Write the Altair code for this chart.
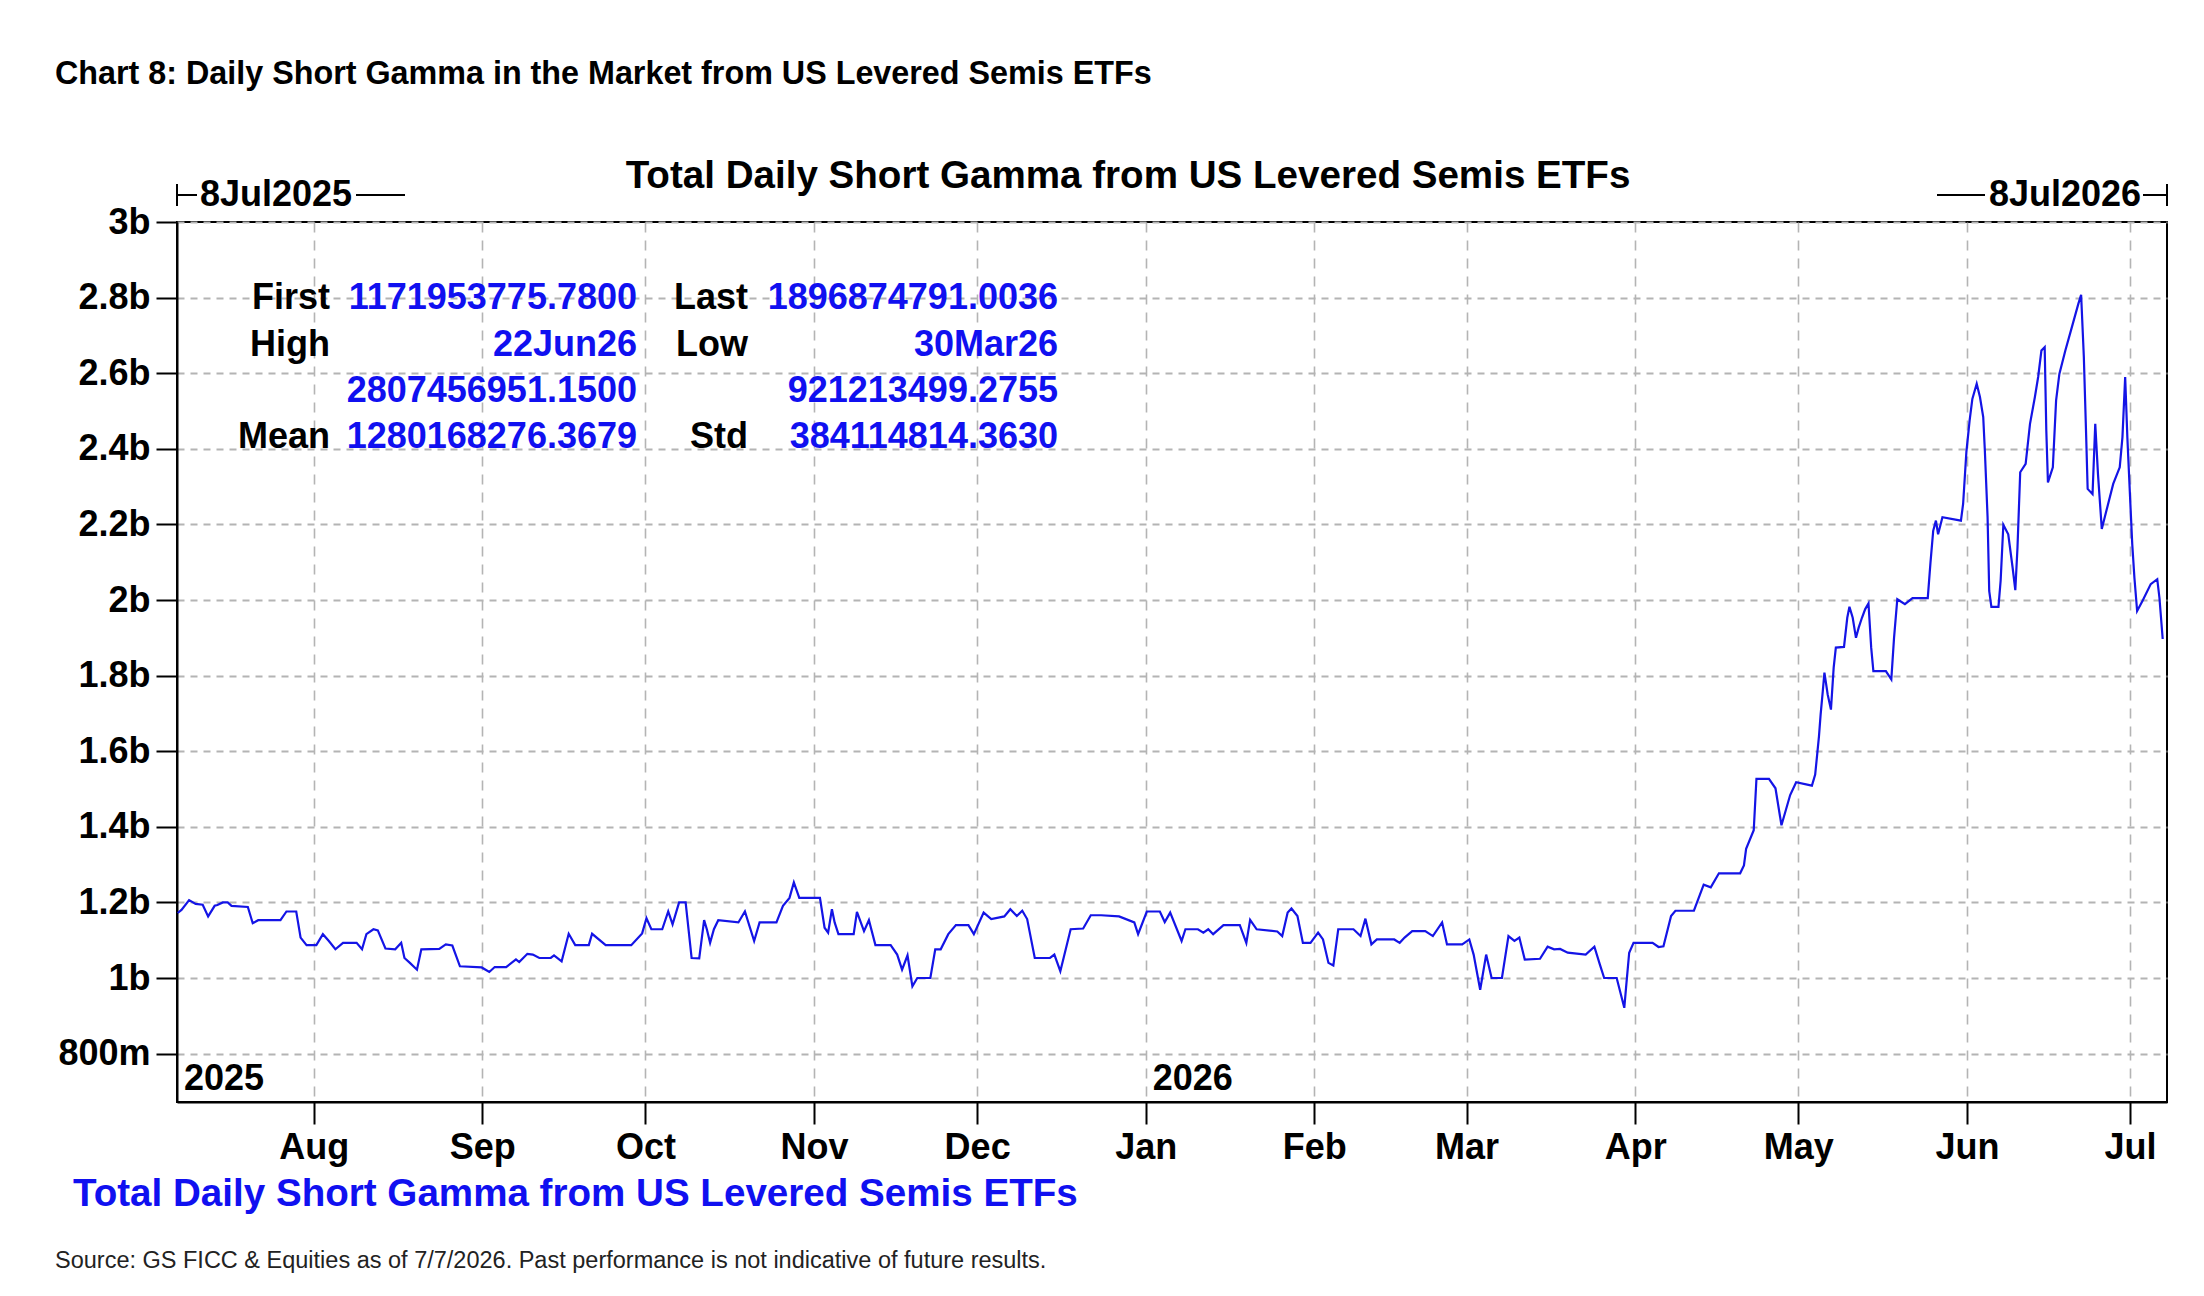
import altair as alt
import pandas as pd

FONT = "Liberation Sans"
LINE_BLUE = "#1414e6"
TEXT_BLUE = "#1010f0"

# ---------------------------------------------------------------------------
# Series: days elapsed since 7 Jul 2025 and total daily short gamma (billions)
# ---------------------------------------------------------------------------
day_offsets = [
    0, 0.7, 2.1, 3.3, 4.6, 5.6, 6.8, 7.3, 8.3, 9.2,
    9.9, 12.9, 13.8, 14.8, 18.9, 20.0, 21.8, 22.6, 23.7, 25.5,
    26.7, 27.8, 29.0, 30.4, 32.9, 33.9, 34.7, 36.0, 36.8, 38.2,
    40.0, 41.1, 41.7, 42.7, 44.0, 44.8, 48.1, 49.3, 50.5, 51.9,
    55.9, 57.3, 58.3, 60.4, 62.2, 62.8, 64.3, 65.3, 66.5, 68.6,
    69.2, 70.6, 71.9, 73.1, 75.6, 76.2, 78.7, 83.4, 85.4, 86.2,
    87.1, 89.1, 90.2, 91.0, 92.2, 93.4, 94.5, 95.9, 96.8, 97.3,
    97.9, 98.6, 99.4, 103.1, 104.3, 106.0, 107.0, 110.1, 111.3, 112.5,
    113.3, 114.3, 118.1, 118.95, 119.6, 120.3, 120.8, 121.5, 124.3, 124.9,
    126.2, 127.1, 128.3, 131.1, 132.3, 133.2, 134.2, 135.1, 136.0, 138.4,
    139.3, 140.3, 141.7, 143.1, 145.4, 146.4, 148.2, 149.6, 152.0, 153.1,
    154.3, 155.3, 156.2, 157.6, 160.4, 161.2, 162.3, 164.2, 166.5, 167.9,
    169.8, 173.1, 175.9, 176.6, 178.2, 180.6, 181.5, 182.5, 184.6, 185.3,
    187.6, 188.6, 189.5, 190.4, 192.3, 195.3, 196.5, 197.2, 198.4, 202.2,
    203.1, 204.1, 204.8, 205.9, 206.9, 208.3, 209.7, 210.6, 211.6, 212.5,
    213.4, 216.2, 217.5, 218.4, 219.5, 220.5, 223.7, 224.7, 225.6, 227.0,
    229.4, 230.8, 232.5, 233.4, 236.2, 237.5, 238.3, 239.5, 240.6, 241.6,
    243.5, 244.7, 245.8, 246.7, 247.7, 250.5, 251.9, 253.1, 254.2, 255.6,
    258.9, 260.5, 261.5, 262.3, 264.6, 266.0, 266.4, 266.9, 267.7, 271.2,
    272.3, 273.2, 274.6, 275.4, 278.8, 280.6, 281.9, 283.4, 287.3, 288.0,
    288.4, 289.8, 290.3, 292.6, 293.8, 294.9, 296.5, 297.6, 300.5, 301.1,
    301.8, 302.1, 302.5, 302.8, 303.4, 304.0, 304.5, 304.9, 306.4, 307.0,
    307.4, 308.0, 308.6, 309.1, 309.7, 310.3, 310.9, 311.4, 311.8, 314.1,
    315.1, 315.6, 316.2, 317.6, 319.0, 321.8, 322.3, 322.8, 323.3, 323.7,
    324.5, 327.9, 328.3, 328.9, 329.5, 330.0, 330.8, 331.4, 332.0, 332.3,
    332.8, 333.1, 333.5, 334.8, 335.2, 335.7, 336.6, 337.4, 337.9, 338.3,
    338.8, 339.8, 340.6, 341.5, 342.1, 342.7, 343.3, 343.6, 343.9, 344.8,
    345.4, 346.0, 347.1, 348.3, 349.5, 350.0, 350.5, 350.9, 351.2, 352.1,
    352.6, 353.1, 353.8, 354.8, 355.9, 357.1, 357.6, 358.1, 358.5, 359.0,
    359.4, 359.8, 360.3, 361.3, 362.8, 364.0, 364.4, 365.0,
]

gamma_bn = [
    1.17195377578, 1.180, 1.206, 1.196, 1.194, 1.163, 1.191, 1.193, 1.200, 1.200,
    1.191, 1.188, 1.145, 1.153, 1.153, 1.176, 1.176, 1.107, 1.087, 1.087,
    1.116, 1.098, 1.076, 1.093, 1.093, 1.076, 1.116, 1.129, 1.126, 1.078,
    1.076, 1.093, 1.053, 1.040, 1.022, 1.076, 1.077, 1.089, 1.086, 1.031,
    1.028, 1.016, 1.029, 1.029, 1.049, 1.042, 1.064, 1.062, 1.053, 1.053,
    1.060, 1.044, 1.117, 1.087, 1.087, 1.117, 1.087, 1.087, 1.118, 1.158,
    1.129, 1.129, 1.176, 1.142, 1.200, 1.200, 1.053, 1.052, 1.153, 1.129,
    1.093, 1.129, 1.153, 1.147, 1.176, 1.098, 1.147, 1.147, 1.191, 1.212,
    1.253, 1.212, 1.212, 1.133, 1.120, 1.182, 1.147, 1.116, 1.116, 1.175,
    1.124, 1.153, 1.087, 1.087, 1.062, 1.022, 1.060, 0.978, 1.000, 1.000,
    1.076, 1.076, 1.116, 1.140, 1.140, 1.116, 1.173, 1.156, 1.163, 1.182,
    1.164, 1.178, 1.156, 1.053, 1.053, 1.062, 1.018, 1.129, 1.131, 1.166,
    1.166, 1.163, 1.147, 1.116, 1.176, 1.176, 1.148, 1.173, 1.098, 1.129,
    1.129, 1.120, 1.129, 1.116, 1.140, 1.140, 1.093, 1.154, 1.129, 1.123,
    1.111, 1.173, 1.184, 1.164, 1.093, 1.093, 1.120, 1.102, 1.040, 1.033,
    1.129, 1.129, 1.111, 1.157, 1.089, 1.102, 1.102, 1.093, 1.107, 1.124,
    1.124, 1.111, 1.147, 1.089, 1.089, 1.102, 1.062, 0.969, 1.062, 1.000,
    1.000, 1.111, 1.098, 1.107, 1.049, 1.051, 1.083, 1.076, 1.077, 1.067,
    1.062, 1.083, 1.036, 1.000, 1.000, 0.9212134992755, 0.987, 1.067, 1.093, 1.093,
    1.082, 1.084, 1.164, 1.178, 1.178, 1.247, 1.240, 1.277, 1.277, 1.298,
    1.342, 1.391, 1.527, 1.527, 1.502, 1.404, 1.484, 1.518, 1.509, 1.538,
    1.640, 1.697, 1.759, 1.808, 1.750, 1.710, 1.821, 1.874, 1.876, 1.953,
    1.982, 1.953, 1.900, 1.927, 1.953, 1.976, 1.991, 1.874, 1.812, 1.812,
    1.790, 1.900, 2.002, 1.989, 2.005, 2.005, 2.099, 2.183, 2.210, 2.174,
    2.219, 2.210, 2.254, 2.391, 2.475, 2.532, 2.572, 2.537, 2.484, 2.395,
    2.219, 2.024, 1.982, 1.982, 2.051, 2.199, 2.174, 2.086, 2.026, 2.139,
    2.338, 2.360, 2.466, 2.537, 2.590, 2.660, 2.669, 2.448, 2.311, 2.351,
    2.528, 2.598, 2.660, 2.722, 2.784, 2.80745695115, 2.643, 2.448, 2.294, 2.280,
    2.466, 2.333, 2.188, 2.245, 2.307, 2.351, 2.431, 2.590, 2.431, 2.272,
    2.148, 2.059, 1.971, 1.998, 2.042, 2.055, 2.006, 1.8968747910036,
]

# Summary statistics block (one entry per row; blank where a row has no name)
stat_names_left = ["First", "High", "", "Mean"]
stat_values_left = ["1171953775.7800", "22Jun26", "2807456951.1500", "1280168276.3679"]
stat_names_right = ["Last", "Low", "", "Std"]
stat_values_right = ["1896874791.0036", "30Mar26", "921213499.2755", "384114814.3630"]

# Axis ticks
month_ticks = [(2025, 8), (2025, 9), (2025, 10), (2025, 11), (2025, 12),
               (2026, 1), (2026, 2), (2026, 3), (2026, 4), (2026, 5),
               (2026, 6), (2026, 7)]
y_ticks = [800_000_000, 1_000_000_000, 1_200_000_000, 1_400_000_000,
           1_600_000_000, 1_800_000_000, 2_000_000_000, 2_200_000_000,
           2_400_000_000, 2_600_000_000, 2_800_000_000, 3_000_000_000]

year_labels = ["2025", "2026"]
year_dates = ["2025-07-06T21:00:00Z", "2026-01-01T00:00:00Z"]

range_start_label = "8Jul2025"
range_end_label = "8Jul2026"

chart_title = "Chart 8: Daily Short Gamma in the Market from US Levered Semis ETFs"
panel_title = "Total Daily Short Gamma from US Levered Semis ETFs"
series_name = "Total Daily Short Gamma from US Levered Semis ETFs"
source_note = ("Source: GS FICC & Equities as of 7/7/2026. "
               "Past performance is not indicative of future results.")

# ---------------------------------------------------------------------------
start = pd.Timestamp("2025-07-07")
series = pd.DataFrame({
    "date": [(start + pd.Timedelta(days=d)).strftime("%Y-%m-%dT%H:%M:%SZ")
             for d in day_offsets],
    "gamma": [v * 1e9 for v in gamma_bn],
})

W, H = 1990, 880
GRID = "#b4b4b4"

x_scale = alt.Scale(
    type="utc",
    domain=[alt.DateTime(year=2025, month=7, date=6, hours=21, utc=True),
            alt.DateTime(year=2026, month=7, date=7, hours=19, utc=True)],
)
y_scale = alt.Scale(domain=[672_000_000, 3_000_000_000], nice=False, zero=False)

x_axis = alt.Axis(
    values=[alt.DateTime(year=y, month=m, date=1, utc=True) for y, m in month_ticks],
    labelExpr="utcFormat(datum.value, '%b')",
    title=None, grid=True, gridDash=[10, 8], gridColor=GRID, gridWidth=1.6,
    tickSize=22, tickWidth=2, tickColor="black",
    domainColor="black", domainWidth=2,
    labelFont=FONT, labelFontSize=36, labelFontWeight="bold", labelColor="black",
    labelPadding=6, labelFlush=False, labelOverlap=False,
)
y_axis = alt.Axis(
    values=y_ticks,
    labelExpr="datum.value >= 1e9 ? format(datum.value / 1e9, '.1~f') + 'b' "
              ": format(datum.value / 1e6, '~f') + 'm'",
    title=None, grid=True, gridDash=[7, 6], gridColor=GRID, gridWidth=1.8,
    tickSize=21, tickWidth=2, tickColor="black",
    domainColor="black", domainWidth=2,
    labelFont=FONT, labelFontSize=36, labelFontWeight="bold", labelColor="black",
    labelPadding=6, labelOverlap=False,
)

line = alt.Chart(series).mark_line(color=LINE_BLUE, strokeWidth=2.2, clip=True).encode(
    x=alt.X("date:T", scale=x_scale, axis=x_axis),
    y=alt.Y("gamma:Q", scale=y_scale, axis=y_axis),
)


def text_layer(text, x, y, size, color="black", weight="bold", align="left",
               baseline="middle"):
    return alt.Chart(pd.DataFrame({"t": [text]})).mark_text(
        align=align, baseline=baseline, font=FONT, fontSize=size,
        fontWeight=weight, color=color).encode(
        x=alt.value(x), y=alt.value(y), text="t:N")


def hrule(x1, x2, y):
    return alt.Chart(pd.DataFrame({"a": [0]})).mark_rule(
        color="black", strokeWidth=2).encode(
        x=alt.value(x1), x2=alt.value(x2), y=alt.value(y))


def vrule(x, y1, y2):
    return alt.Chart(pd.DataFrame({"a": [0]})).mark_rule(
        color="black", strokeWidth=2).encode(
        x=alt.value(x), y=alt.value(y1), y2=alt.value(y2))


years = alt.Chart(pd.DataFrame({"date": year_dates, "label": year_labels})).mark_text(
    align="left", baseline="middle", dx=7, font=FONT, fontSize=36,
    fontWeight="bold", color="black").encode(
    x=alt.X("date:T", scale=x_scale, axis=x_axis),
    y=alt.value(857),
    text="label:N",
)

# Statistics table: four columns, four rows
ROW_Y = [76, 122.5, 169, 215]
stats = []
for col_x, col_vals, col_color in [
    (153, stat_names_left, "black"),
    (460, stat_values_left, TEXT_BLUE),
    (571, stat_names_right, "black"),
    (881, stat_values_right, TEXT_BLUE),
]:
    for row_y, txt in zip(ROW_Y, col_vals):
        if txt:
            stats.append(text_layer(txt, col_x, row_y, 36, color=col_color,
                                    align="right"))

range_marks = [
    vrule(0, -38, -16), hrule(0, 20, -27),
    text_layer(range_start_label, 23, -27, 36),
    hrule(179, 228, -27),
    hrule(1760, 1808, -27),
    text_layer(range_end_label, 1964, -27, 36, align="right"),
    hrule(1966, 1990, -27), vrule(1990, -38, -16),
]

annotations = [
    text_layer(chart_title, -122, -148, 32.3),
    text_layer(panel_title, 951, -46, 38.6, align="center"),
    text_layer(series_name, -104, 972, 38.6, color=TEXT_BLUE),
    text_layer(source_note, -122, 1039, 23.5, color="#222222", weight="normal"),
]

chart = alt.layer(line, years, *stats, *range_marks, *annotations).properties(
    width=W,
    height=H,
    autosize=alt.AutoSizeParams(type="none"),
    padding={"left": 177, "top": 222, "right": 37, "bottom": 194},
    background="white",
).configure_view(stroke="black", strokeWidth=2)

chart.save("out.html", embed_options={"renderer": "svg", "actions": False})
